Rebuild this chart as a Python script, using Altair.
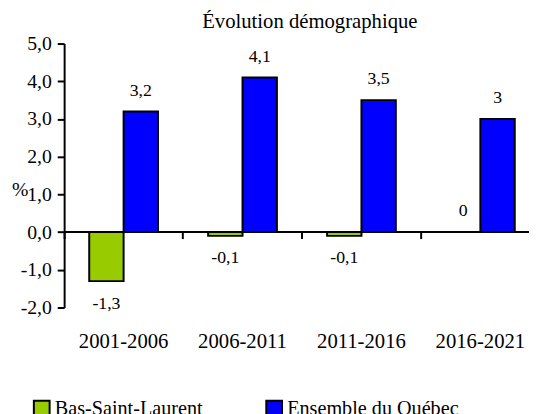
import altair as alt
import pandas as pd

periods = ["2001-2006", "2006-2011", "2011-2016", "2016-2021"]
series = ["Bas-Saint-Laurent", "Ensemble du Québec"]
bsl_values = [-1.3, -0.1, -0.1, 0.0]
qc_values = [3.2, 4.1, 3.5, 3.0]
bsl_labels = ["-1,3", "-0,1", "-0,1", "0"]
qc_labels = ["3,2", "4,1", "3,5", "3"]
y_ticks = [-2, -1, 0, 1, 2, 3, 4, 5]
colors = ["#99CC00", "#0000FF"]
title_text = "Évolution démographique"

rows = []
for i, p in enumerate(periods):
    rows.append({"period": p, "serie": series[0], "value": bsl_values[i], "label": bsl_labels[i]})
    rows.append({"period": p, "serie": series[1], "value": qc_values[i], "label": qc_labels[i]})
df = pd.DataFrame(rows)

FONT = "Liberation Serif"

x_enc = alt.X(
    "period:N", sort=periods,
    scale=alt.Scale(paddingInner=0, paddingOuter=0),
    axis=alt.Axis(
        title=None, offset=-77, domain=False, ticks=True, tickSize=7, tickWidth=2,
        tickColor="black", bandPosition=0, labelPadding=94,
        labelAngle=0, labelFont=FONT, labelFontSize=21, labelColor="black",
        grid=False, labelOverlap=False,
    ),
)
xoff_enc = alt.XOffset("serie:N", sort=series, scale=alt.Scale(paddingOuter=0.73, paddingInner=0))
y_scale = alt.Scale(domain=[-2, 5], nice=False, zero=False)
y_axis = alt.Axis(
    values=y_ticks, labelExpr="datum.value + ',0'", title="%", titleAngle=0,
    titleX=-45, titleY=148, titleAlign="center", titleBaseline="middle",
    titleFont=FONT, titleFontSize=20, titleFontWeight="normal", titleColor="black",
    domainColor="black", domainWidth=2, tickColor="black", tickWidth=2, tickSize=7,
    labelFont=FONT, labelFontSize=20, labelColor="black", labelPadding=6, grid=False,
    labelOverlap=False,
)
y_enc = alt.Y("value:Q", scale=y_scale, axis=y_axis)

base = alt.Chart(df).encode(x=x_enc, xOffset=xoff_enc, y=y_enc)

bars = base.mark_bar(stroke="black", strokeWidth=2).encode(
    color=alt.Color(
        "serie:N", sort=series,
        scale=alt.Scale(domain=series, range=colors),
        legend=alt.Legend(
            title=None, orient="none", legendX=-33, legendY=360, direction="horizontal",
            symbolType="square", symbolSize=256, symbolStrokeColor="black",
            symbolStrokeWidth=2, symbolOpacity=1, labelFont=FONT, labelFontSize=20.5,
            labelColor="black", labelLimit=300, columnPadding=60, labelOffset=3, padding=0,
        ),
    )
)

zero_rule = alt.Chart(df).mark_rule(color="black", strokeWidth=2).encode(
    y=alt.YDatum(0, scale=y_scale, axis=y_axis)
)

pos_text = base.transform_filter("datum.value >= 0").mark_text(
    font=FONT, fontSize=18, color="black", baseline="alphabetic", dy=-16
).encode(text="label:N")
neg_text = base.transform_filter("datum.value < 0").mark_text(
    font=FONT, fontSize=18, color="black", baseline="alphabetic", dy=28
).encode(text="label:N")

chart = alt.layer(bars, zero_rule, pos_text, neg_text).properties(
    width=483, height=268,
    autosize=alt.AutoSizeParams(type="none"),
    padding={"left": 57, "top": 33, "right": -11, "bottom": 105},
    title=alt.Title(
        title_text, font=FONT, fontSize=21, fontWeight="normal", color="black",
        anchor="middle", dx=8, dy=19, offset=4, baseline="alphabetic",
    ),
).configure_view(stroke=None)

chart.save("out.html", embed_options={"renderer": "svg", "actions": False})
